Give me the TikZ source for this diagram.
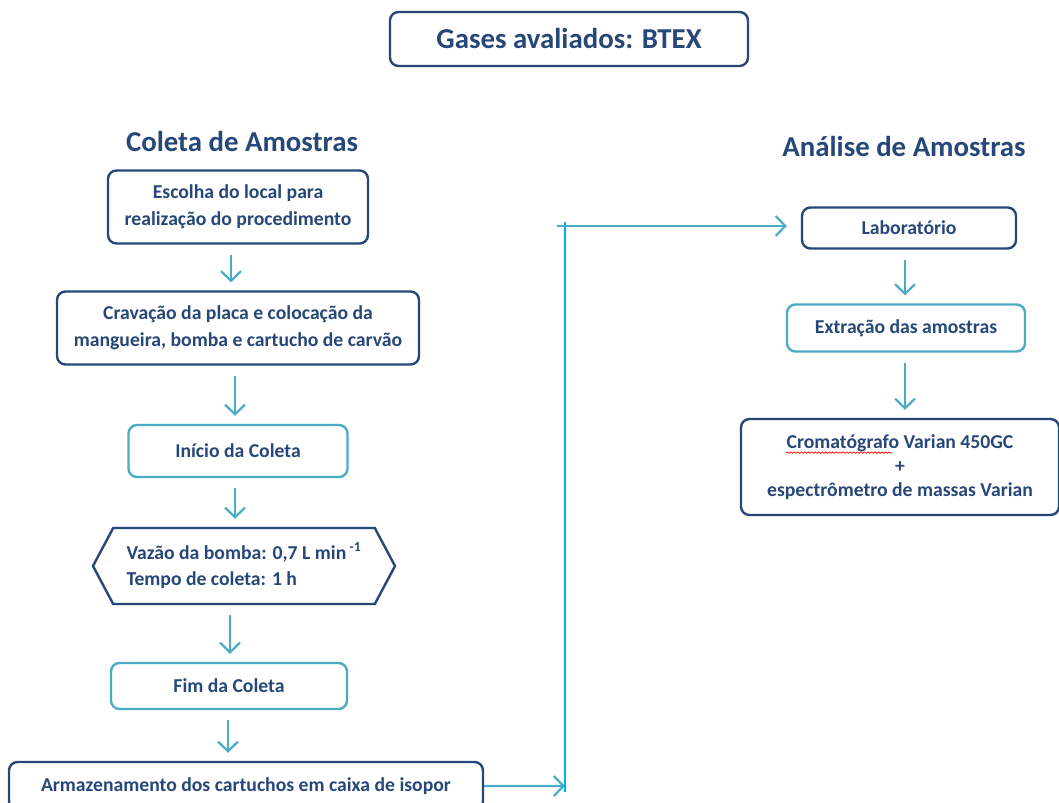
\documentclass[tikz,border=0pt]{standalone}
\usepackage{fontspec}
\setmainfont{Carlito}
\usepackage{tikz}
\usetikzlibrary{positioning,shapes.symbols,arrows.meta,decorations.pathmorphing}
\definecolor{darkb}{HTML}{264778}
\definecolor{lightb}{HTML}{4BACC6}
\definecolor{skyb}{HTML}{00B0F0}
\tikzstyle{blk}=[draw=darkb, rounded corners=6pt, line width=1.7pt, text=darkb, font=\bfseries\fontsize{14}{19}\selectfont, align=center]
\tikzstyle{blk1}=[blk, draw=lightb]
\tikzstyle{hexa}=[draw=darkb, line width=1.7pt, text=darkb, font=\bfseries\fontsize{14}{19}\selectfont, align=left, signal, signal to=west and east, signal pointer angle=124]
\tikzstyle{ttl}=[text=darkb, font=\bfseries\fontsize{20.5}{24}\selectfont]
\tikzstyle{flow}=[->, draw=lightb, line width=1.6pt, shorten <=0.25cm, shorten >=0.2cm]

\begin{document}
\begin{tikzpicture}[node distance=2cm,auto,>={Straight Barb[length=2.4mm,width=5mm]}]
\useasboundingbox (0,0) rectangle (26.475,-20.075);
\node[blk, minimum width=8.95cm, minimum height=1.35cm, font=\bfseries\fontsize{20.5}{24}\selectfont] at (14.225,-0.975) (gases) {Gases avaliados: BTEX};
\node[ttl] at (6.05,-3.525) (coleta) {Coleta de Amostras};
\node[ttl] at (22.6,-3.65) (analise) {Análise de Amostras};

% coleta
\node[blk, minimum width=6.5cm, minimum height=1.825cm] at (5.95,-5.175) (local) {Escolha do local para\\realização do procedimento};
\node[blk, below of = local, node distance = 3.025cm, minimum width=9.05cm, minimum height=1.825cm] (placa) {Cravação da placa e colocação da\\mangueira, bomba e cartucho de carvão};
\node[blk1, below of = placa, node distance = 3.075cm, minimum width=5.475cm, minimum height=1.3cm] (inicio) {Início da Coleta};
\node[hexa, below of = inicio, node distance = 2.875cm, xshift=0.15cm, minimum width=7.55cm, minimum height=1.9cm] (vazao) {Vazão da bomba: 0,7 L min\,\textsuperscript{-1}\\Tempo de coleta: 1 h};
\node[blk1, below of = vazao, node distance = 3cm, xshift=-0.375cm, minimum width=5.9cm, minimum height=1.15cm] (fim) {Fim da Coleta};
\node[blk, below of = fim, node distance = 2.5cm, xshift=0.425cm, minimum width=11.85cm, minimum height=1.2cm] (armaz) {Armazenamento dos cartuchos em caixa de isopor};

\draw[flow] ([xshift=-0.175cm]local.south) -- ([xshift=-0.175cm]local.south |- placa.north);
\draw[flow] ([xshift=-0.075cm]placa.south) -- ([xshift=-0.075cm]placa.south |- inicio.north);
\draw[flow] ([xshift=-0.075cm]inicio.south) -- ([xshift=-0.075cm]inicio.south |- vazao.north);
\draw[flow] ([xshift=-0.35cm]vazao.south) -- ([xshift=-0.35cm]vazao.south |- fim.north);
\draw[flow] ([xshift=-0.025cm]fim.south) -- ([xshift=-0.025cm]fim.south |- armaz.north);

% analise
\node[blk, minimum width=5.35cm, minimum height=1.025cm] at (22.725,-5.7) (lab) {Laboratório};
\node[blk1, below of = lab, node distance = 2.5cm, xshift=-0.075cm, minimum width=5.95cm, minimum height=1.175cm] (extr) {Extração das amostras};
\node[blk, below of = extr, node distance = 3.475cm, xshift=-0.15cm, minimum width=7.95cm, minimum height=2.4cm, font=\bfseries\fontsize{14}{17}\selectfont] (croma) {Cromatógrafo Varian 450GC\\+\\espectrômetro de massas Varian};
\draw[red, line width=0.5pt, decorate, decoration={snake, amplitude=0.5pt, segment length=2.5pt}] ([xshift=-2.85cm,yshift=0.36cm]croma.center) -- ++(2.65,0);

\draw[flow] ([xshift=-0.1cm]lab.south) -- ([xshift=-0.1cm]lab.south |- extr.north);
\draw[flow] ([xshift=-0.025cm]extr.south) -- ([xshift=-0.025cm]extr.south |- croma.north);

% ligacao
\coordinate (jb) at (14.125,-19.65);
\coordinate (jt) at (14.125,-5.65);
\draw[flow, shorten <=0pt, shorten >=0pt] (armaz.east) -- (jb);
\draw[skyb, line width=1.6pt] ([yshift=-0.14cm]jb) -- ([yshift=0.1cm]jt);
\draw[flow, shorten <=0pt, shorten >=0.35cm] ([xshift=-0.2cm]jt) -- (jt -| lab.west);
\end{tikzpicture}
\end{document}
